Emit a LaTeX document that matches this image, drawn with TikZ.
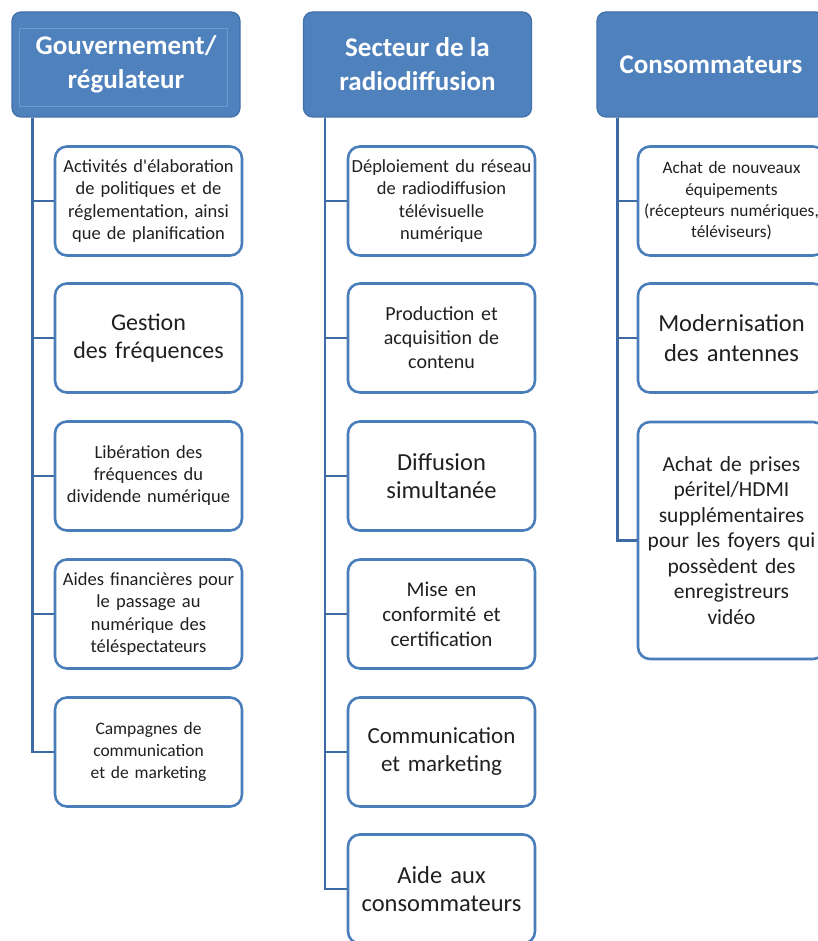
\documentclass[tikz,border=0pt]{standalone}
\usepackage{fontspec}
\setmainfont{Carlito}[Ligatures=TeXOff]
\usepackage{xcolor}
\definecolor{headblue}{RGB}{79,129,189}
\definecolor{headedge}{RGB}{66,112,170}
\definecolor{headinner}{RGB}{112,152,206}
\definecolor{boxedge}{RGB}{74,126,187}
\definecolor{trunkblue}{RGB}{62,106,165}
\definecolor{txtgray}{RGB}{32,32,32}

\begin{document}
\begin{tikzpicture}[x=1pt, y=1pt,
    head/.style={draw=headedge, line width=1.2pt, fill=headblue, rounded corners=9pt,
      minimum width=228pt, minimum height=105pt, inner sep=0pt, text=white, align=center,
      font=\bfseries\fontsize{27}{34}\selectfont},
    item/.style={draw=boxedge, line width=2.6pt, fill=white, rounded corners=12pt,
      minimum width=187pt, minimum height=109pt, text width=185pt, inner sep=0pt,
      align=center, text=txtgray},
    fs/.style 2 args={font=\fontsize{#1}{#2}\selectfont},
    trunk/.style={draw=trunkblue, line width=2.8pt}]
    \clip (0,0) rectangle (818,-941);

    % Gouvernement / regulateur
    \node[head] (g0) at (126,-64.5) {Gouvernement/\\régulateur};
    \draw[headinner, line width=0.8pt] ([shift={(8,-17)}]g0.north west) rectangle ([shift={(-13,11)}]g0.south east);
    \node[item, fs={18.5}{22.5}] (g1) at (148.5,-201) {Activités d'élaboration\\de politiques et de\\réglementation, ainsi\\que de planification};
    \node[item, fs={24}{28}] (g2) at (148.5,-338) {Gestion\\des fréquences};
    \node[item, fs={18.5}{22}] (g3) at (148.5,-476) {Libération des\\fréquences du\\dividende numérique};
    \node[item, fs={18.5}{22.5}] (g4) at (148.5,-614) {Aides financières pour\\le passage au\\numérique des\\téléspectateurs};
    \node[item, fs={17.5}{22}] (g5) at (148.5,-752) {Campagnes de\\communication\\et de marketing};
    \foreach \i in {1,...,5} {
      \draw[trunk] ([xshift=21pt]g0.south west) |- (g\i.west);
    }

    % Secteur de la radiodiffusion
    \node[head] (s0) at (417.5,-64.5) {Secteur de la\\radiodiffusion};
    \node[item, fs={18.5}{22.5}] (s1) at (441.5,-201) {Déploiement du réseau\\de radiodiffusion\\télévisuelle\\numérique};
    \node[item, fs={20}{24}] (s2) at (441.5,-338) {Production et\\acquisition de\\contenu};
    \node[item, fs={24.5}{28}] (s3) at (441.5,-476) {Diffusion\\simultanée};
    \node[item, fs={21}{25}] (s4) at (441.5,-614) {Mise en\\conformité et\\certification};
    \node[item, fs={23}{28}] (s5) at (441.5,-752) {Communication\\et marketing};
    \node[item, fs={24.5}{28}] (s6) at (441.5,-889) {Aide aux\\consommateurs};
    \foreach \i in {1,...,6} {
      \draw[trunk] ([xshift=22pt]s0.south west) |- (s\i.west);
    }

    % Consommateurs
    \node[head] (c0) at (711,-64.5) {Consommateurs};
    \node[item, fs={17.3}{21.3}] (c1) at (731.5,-201) {Achat de nouveaux\\équipements\\(récepteurs numériques,\\téléviseurs)};
    \node[item, fs={24.5}{30}] (c2) at (731.5,-338) {Modernisation\\des antennes};
    \node[item, fs={21.5}{25.5}, minimum height=237pt] (c3) at (731.5,-540.5) {Achat de prises\\péritel/HDMI\\supplémentaires\\pour les foyers qui\\possèdent des\\enregistreurs\\vidéo};
    \foreach \i in {1,2,3} {
      \draw[trunk] ([xshift=21pt]c0.south west) |- (c\i.west);
    }
\end{tikzpicture}
\end{document}
